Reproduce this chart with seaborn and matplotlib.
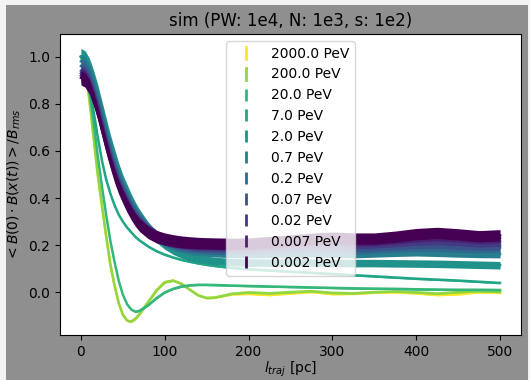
import numpy as np
import pandas as pd
import matplotlib
matplotlib.use("Agg")
import matplotlib.pyplot as plt
import seaborn as sns
from matplotlib.colors import LogNorm
from matplotlib.legend_handler import HandlerBase
from matplotlib.lines import Line2D
from matplotlib.patches import Rectangle

# ---------------- data ----------------
x_pc = [0, 5, 10, 15, 20, 25, 30, 35, 40, 45, 50, 55, 60, 65, 70, 80, 90, 100, 110, 120,
        130, 140, 150, 160, 180, 200, 225, 250, 275, 300, 325, 350, 375, 400, 425, 450, 475, 500]

energies = [2000.0, 200.0, 20.0, 7.0, 2.0, 0.7, 0.2, 0.07, 0.02, 0.007, 0.002]
labels = ["2000.0 PeV", "200.0 PeV", "20.0 PeV", "7.0 PeV", "2.0 PeV", "0.7 PeV",
          "0.2 PeV", "0.07 PeV", "0.02 PeV", "0.007 PeV", "0.002 PeV"]

y_2000 = [1.00, 0.95, 0.82, 0.66, 0.50, 0.37, 0.24, 0.12, 0.03, -0.045, -0.095, -0.12, -0.124, -0.112, -0.092,
          -0.042, 0.008, 0.043, 0.05, 0.036, 0.011, -0.013, -0.024, -0.022, -0.008, -0.006, -0.011, -0.004, 0.002,
          -0.007, -0.006, -0.001, 0.001, -0.004, -0.011, -0.008, 0.001, -0.002]
y_200 = [1.00, 0.95, 0.82, 0.66, 0.50, 0.37, 0.24, 0.12, 0.03, -0.045, -0.095, -0.12, -0.124, -0.112, -0.092,
         -0.042, 0.008, 0.043, 0.05, 0.036, 0.011, -0.013, -0.024, -0.022, -0.006, 0.0, -0.004, 0.001, 0.005,
         -0.002, -0.004, 0.001, 0.004, 0.0, -0.005, 0.001, 0.005, 0.002]
y_20 = [1.00, 0.96, 0.86, 0.72, 0.58, 0.45, 0.33, 0.22, 0.13, 0.05, -0.01, -0.05, -0.073, -0.082, -0.078,
        -0.055, -0.025, 0.0, 0.015, 0.025, 0.03, 0.032, 0.032, 0.031, 0.029, 0.027, 0.025, 0.023, 0.021,
        0.019, 0.017, 0.016, 0.015, 0.013, 0.012, 0.011, 0.011, 0.010]
y_7 = [1.00, 0.97, 0.88, 0.77, 0.66, 0.56, 0.48, 0.42, 0.37, 0.33, 0.30, 0.275, 0.255, 0.235, 0.22,
       0.195, 0.175, 0.16, 0.148, 0.138, 0.13, 0.123, 0.117, 0.112, 0.104, 0.098, 0.093, 0.088, 0.083,
       0.078, 0.073, 0.068, 0.063, 0.058, 0.054, 0.05, 0.045, 0.04]
y_2 = [1.00, 0.99, 0.96, 0.91, 0.85, 0.78, 0.71, 0.64, 0.58, 0.52, 0.47, 0.43, 0.39, 0.355, 0.325,
       0.275, 0.235, 0.205, 0.182, 0.165, 0.152, 0.143, 0.137, 0.133, 0.128, 0.126, 0.126, 0.127, 0.126,
       0.125, 0.124, 0.124, 0.123, 0.122, 0.121, 0.119, 0.117, 0.115]
y_07 = [0.98, 0.97, 0.94, 0.89, 0.83, 0.76, 0.69, 0.62, 0.56, 0.50, 0.455, 0.415, 0.378, 0.345, 0.318,
        0.272, 0.24, 0.215, 0.198, 0.186, 0.178, 0.172, 0.168, 0.166, 0.163, 0.162, 0.163, 0.165, 0.166,
        0.164, 0.162, 0.165, 0.168, 0.17, 0.168, 0.165, 0.163, 0.162]
y_02 = [0.96, 0.95, 0.92, 0.87, 0.81, 0.74, 0.67, 0.60, 0.54, 0.485, 0.44, 0.40, 0.365, 0.335, 0.308,
        0.268, 0.24, 0.22, 0.206, 0.196, 0.19, 0.186, 0.183, 0.181, 0.179, 0.178, 0.18, 0.183, 0.186,
        0.184, 0.182, 0.186, 0.19, 0.194, 0.193, 0.19, 0.188, 0.19]
y_007 = [0.94, 0.93, 0.90, 0.85, 0.79, 0.72, 0.65, 0.585, 0.525, 0.47, 0.43, 0.39, 0.355, 0.325, 0.30,
         0.264, 0.24, 0.223, 0.211, 0.203, 0.197, 0.193, 0.19, 0.188, 0.186, 0.185, 0.188, 0.192, 0.196,
         0.195, 0.192, 0.196, 0.2, 0.205, 0.206, 0.202, 0.198, 0.2]
y_002 = [0.93, 0.92, 0.89, 0.84, 0.78, 0.71, 0.64, 0.575, 0.515, 0.46, 0.42, 0.38, 0.347, 0.318, 0.294,
         0.26, 0.238, 0.224, 0.214, 0.207, 0.202, 0.198, 0.196, 0.195, 0.194, 0.194, 0.198, 0.203, 0.208,
         0.208, 0.205, 0.208, 0.213, 0.22, 0.222, 0.218, 0.212, 0.215]
y_0007 = [0.92, 0.91, 0.88, 0.83, 0.77, 0.70, 0.63, 0.565, 0.505, 0.452, 0.412, 0.373, 0.34, 0.312, 0.289,
          0.257, 0.237, 0.225, 0.217, 0.211, 0.207, 0.204, 0.202, 0.201, 0.2, 0.201, 0.206, 0.212, 0.218,
          0.22, 0.216, 0.218, 0.225, 0.233, 0.238, 0.233, 0.227, 0.23]
y_0002 = [0.91, 0.90, 0.87, 0.82, 0.76, 0.69, 0.62, 0.555, 0.495, 0.445, 0.405, 0.367, 0.335, 0.307, 0.285,
          0.255, 0.236, 0.226, 0.219, 0.214, 0.211, 0.209, 0.208, 0.207, 0.206, 0.207, 0.213, 0.22, 0.227,
          0.232, 0.228, 0.228, 0.236, 0.247, 0.252, 0.246, 0.238, 0.242]

series_y = [y_2000, y_200, y_20, y_7, y_2, y_07, y_02, y_007, y_002, y_0007, y_0002]
# half-width of the spread band at start / later (data units)
spread_start = [0.004, 0.004, 0.004, 0.004, 0.035, 0.03, 0.03, 0.03, 0.03, 0.03, 0.03]
spread_end = [0.004, 0.004, 0.004, 0.004, 0.016, 0.016, 0.02, 0.02, 0.02, 0.02, 0.024]
dashed = [False, False, True, True, True, True, True, True, True, True, True]

# ---------------- figure ----------------
W, H = 530, 380
fig = plt.figure(figsize=(W / 100, H / 100), dpi=100)
fig.patch.set_facecolor("#f3f3f3")
fig.patches.append(Rectangle((6 / W, 0), (528 - 6) / W, 375 / H, transform=fig.transFigure,
                             facecolor="#8f8f8f", edgecolor="none", zorder=-10))
ax = fig.add_axes([60 / W, 1 - 335 / H, (521 - 60) / W, (335 - 34) / H])
ax.set_facecolor("white")

cmap = plt.get_cmap("viridis")
norm = LogNorm(vmin=min(energies), vmax=max(energies))

x_arr = np.array(x_pc, dtype=float)
handles = []
for i, (E, lab, ys) in enumerate(zip(energies, labels, series_y)):
    c = cmap(norm(E))
    y_arr = np.array(ys)
    frac = np.clip(x_arr / 150.0, 0, 1)
    hw = spread_start[i] + (spread_end[i] - spread_start[i]) * frac
    ax.fill_between(x_arr, y_arr - hw, y_arr + hw, color=c, lw=0, zorder=2 + i * 0.1)
    df = pd.DataFrame({"x": x_arr, "y": y_arr})
    sns.lineplot(data=df, x="x", y="y", color=c, lw=1.8, ax=ax, zorder=2.05 + i * 0.1)
    h = Line2D([], [], color=c, lw=2.0, linestyle=(0, (4.5, 1.4)) if dashed[i] else "-")
    handles.append(h)


class VLineHandler(HandlerBase):
    def create_artists(self, legend, orig_handle, xdescent, ydescent, width, height, fontsize, trans):
        xm = width / 2 - xdescent
        line = Line2D([xm, xm], [-ydescent - 0.12 * height, height * 1.12 - ydescent])
        line.update_from(orig_handle)
        line.set_transform(trans)
        return [line]


ax.legend(handles, labels, loc="upper center", handler_map={Line2D: VLineHandler()}, fontsize=10)

ax.set_xlim(-25, 525)
ax.set_ylim(-0.181, 1.096)
ax.set_xticks([0, 100, 200, 300, 400, 500])
ax.set_yticks([0.0, 0.2, 0.4, 0.6, 0.8, 1.0])
ax.set_xlabel(r"$l_{traj}$ [pc]", fontsize=10, labelpad=1)
ax.set_ylabel(r"$<B(0)\cdot B(x(t))>/B_{rms}$", fontsize=10)
ax.set_title("sim (PW: 1e4, N: 1e3, s: 1e2)", fontsize=12)

fig.savefig("out.png", dpi=100, facecolor=fig.get_facecolor())
